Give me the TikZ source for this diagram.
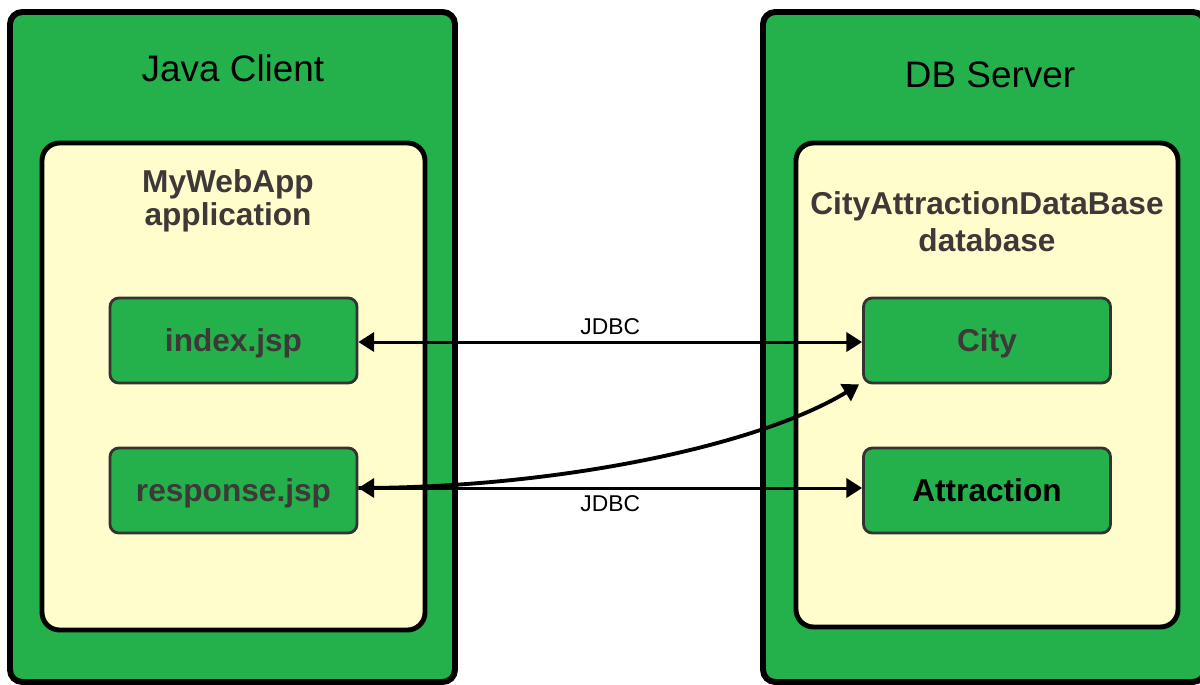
\documentclass[tikz,border=0pt]{standalone}
\usepackage{fontspec}
\setmainfont{Liberation Sans}
\usetikzlibrary{arrows.meta}
\definecolor{boxgreen}{RGB}{36,177,76}
\definecolor{paleyellow}{RGB}{255,253,204}
\definecolor{labelgray}{RGB}{62,56,56}
\tikzset{>/.tip={Triangle[length=9pt,width=11pt]},
  outerbox/.style={draw=black, line width=3.4pt, fill=boxgreen, rounded corners=7pt},
  innerbox/.style={draw=black, line width=2.8pt, fill=paleyellow, rounded corners=10pt},
  compbox/.style={draw=black!80, line width=1.6pt, fill=boxgreen, rounded corners=5pt,
    minimum width=247*0.02cm, minimum height=85*0.02cm, text height=17pt, text depth=4pt,
    font=\fontsize{18}{20}\selectfont\bfseries, text=labelgray},
  boxtitle/.style={font=\fontsize{21}{24}\selectfont},
  conn/.style={line width=1.7pt, <->}}

\begin{document}
\begin{tikzpicture}[x=0.02cm, y=-0.02cm]
\useasboundingbox (0,0) rectangle (1200,684);
\fill[white] (0,0) rectangle (1200,684);
\node[outerbox, minimum width=445*0.02cm, minimum height=670*0.02cm] (client) at (232.5,347) {};
\node[outerbox, minimum width=442*0.02cm, minimum height=670*0.02cm] (server) at (984,347) {};
\node[innerbox, minimum width=383*0.02cm, minimum height=487*0.02cm] (app) at (233.5,386.5) {};
\node[innerbox, minimum width=382*0.02cm, minimum height=484*0.02cm] (db) at (987,385) {};
\node[boxtitle] (clienttitle) at (233,68) {Java Client};
\node[boxtitle] (servertitle) at (990,75) {DB Server};
\node[align=center, text=labelgray, font=\fontsize{18}{19}\selectfont\bfseries] (apptitle) at (228,201) {MyWebApp\\application};
\node[align=center, text=labelgray, font=\fontsize{18}{21}\selectfont\bfseries] (dbtitle) at (987,222) {CityAttractionDataBase\\database};
\node[compbox] (index) at (233.5,340.5) {index.jsp};
\node[compbox] (response) at (233.5,490.5) {response.jsp};
\node[compbox] (city) at (987,340.5) {City};
\node[compbox, text=black] (attraction) at (987,490.5) {Attraction};
\draw[conn] ([yshift=-1.5*0.02cm]index.east) -- node[above, font=\fontsize{13}{15}\selectfont] {JDBC} ([yshift=-1.5*0.02cm]city.west);
\draw[conn] ([yshift=2.5*0.02cm]response.east) -- node[below, font=\fontsize{13}{15}\selectfont] {JDBC} ([yshift=2.5*0.02cm]attraction.west);
\draw[line width=2.2pt, ->] ([yshift=2.5*0.02cm]response.east) .. controls (560,488) and (760,445) .. ([xshift=-3*0.02cm]city.south west);
\end{tikzpicture}
\end{document}
